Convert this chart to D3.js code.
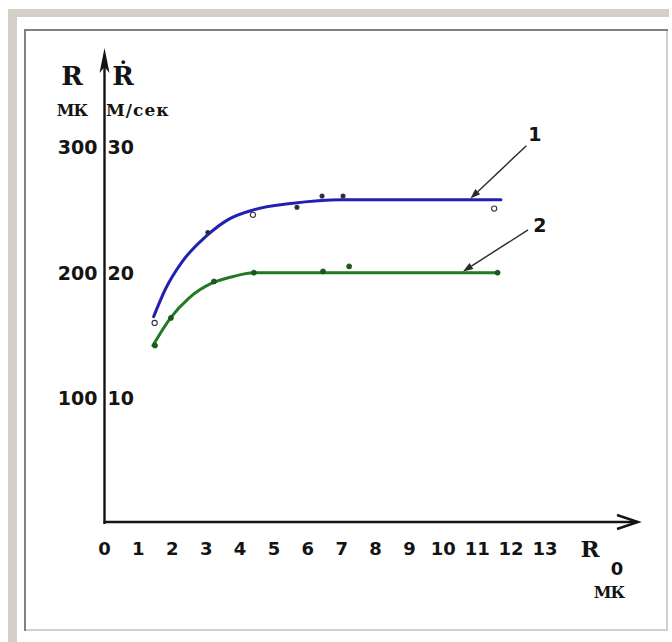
<!DOCTYPE html>
<html>
<head>
<meta charset="utf-8">
<script src="https://cdn.jsdelivr.net/npm/d3@7"></script>
<style>
  html, body { margin: 0; padding: 0; background: #fff; }
  svg { display: block; }
</style>
</head>
<body>
<svg id="chart" width="672" height="642"></svg>
<script>
// Radius R (мк) and growth rate Ṙ (м/сек) versus initial radius R0 (мк)
const xTicks = [0, 1, 2, 3, 4, 5, 6, 7, 8, 9, 10, 11, 12, 13];
const yTicksR = [100, 200, 300];
const yTicksRdot = [10, 20, 30];

// curve 1: fitted line and measured points (R0, R)
const curve1Line = [[1.45, 165], [1.8, 187], [2.3, 209], [3.0, 229], [3.7, 243], [4.4, 250], [5.5, 255], [7.0, 258], [9.0, 258], [11.7, 258]];
const curve1X = [1.48, 3.05, 4.38, 5.68, 6.42, 7.04, 11.5];
const curve1Y = [160, 232, 246, 252, 261, 261, 251];
const curve1Open = [true, false, true, false, false, false, true];

// curve 2: fitted line and measured points (R0, Ṙ·10)
const curve2Line = [[1.43, 142], [1.95, 164], [2.5, 180], [3.2, 192], [3.8, 197], [4.4, 200], [6.0, 200], [9.0, 200], [11.6, 200]];
const curve2X = [1.49, 1.96, 3.23, 4.41, 6.45, 7.22, 11.6];
const curve2Y = [142, 164, 193, 200, 201, 205, 200];

// leader arrows with curve numbers
const labelNames = ["1", "2"];
const labelAt = [[12.7, 310], [12.85, 238]];
const arrowFrom = [[12.45, 301], [12.5, 234]];
const arrowTo = [[10.8, 259], [10.58, 201]];

const svg = d3.select("#chart");

// page frame
const frame = svg.append("g");
frame.append("rect").attr("x", 8).attr("y", 9).attr("width", 661).attr("height", 8).attr("fill", "#d4d0c8");
frame.append("rect").attr("x", 8).attr("y", 9).attr("width", 9).attr("height", 633).attr("fill", "#d4d0c8");
frame.append("rect").attr("x", 24).attr("y", 29).attr("width", 644).attr("height", 2).attr("fill", "#808080");
frame.append("rect").attr("x", 24).attr("y", 29).attr("width", 2).attr("height", 602).attr("fill", "#808080");
frame.append("rect").attr("x", 666).attr("y", 31).attr("width", 2).attr("height", 600).attr("fill", "#d4d0c8");
frame.append("rect").attr("x", 26).attr("y", 629).attr("width", 642).attr("height", 2).attr("fill", "#d4d0c8");

const x = d3.scaleLinear().domain([0, 13]).range([104.5, 545]);
const y = d3.scaleLinear().domain([0, 300]).range([524, 147]);

const ink = "#141414";
const x0 = x(0), y0 = y(0) - 2;

// axes
svg.append("line").attr("x1", x0).attr("y1", y0 + 2).attr("x2", x0).attr("y2", 60)
  .attr("stroke", ink).attr("stroke-width", 2.4);
svg.append("path")
  .attr("d", `M${x0},48 L${x0 - 5},73 L${x0},67 L${x0 + 5},73 Z`)
  .attr("fill", ink);
svg.append("line").attr("x1", x0 - 1).attr("y1", y0).attr("x2", 636).attr("y2", y0)
  .attr("stroke", ink).attr("stroke-width", 2.6);
svg.append("path")
  .attr("d", `M${617},${y0 - 7} L${638},${y0} L${617},${y0 + 7}`)
  .attr("fill", "none").attr("stroke", ink).attr("stroke-width", 2.4);

const sans = "'DejaVu Sans', Verdana, sans-serif";
const serif = "'DejaVu Serif', 'Liberation Serif', serif";

// x tick labels
svg.append("g").selectAll("text").data(xTicks).join("text")
  .attr("x", d => x(d)).attr("y", 548)
  .attr("text-anchor", "middle").attr("dominant-baseline", "central")
  .attr("font-family", sans).attr("font-weight", "bold").attr("font-size", 18)
  .attr("fill", ink).text(d => d);

// y tick labels, both scales
svg.append("g").selectAll("text").data(yTicksR).join("text")
  .attr("x", x0 - 7).attr("y", d => y(d))
  .attr("text-anchor", "end").attr("dominant-baseline", "central")
  .attr("font-family", sans).attr("font-weight", "bold").attr("font-size", 19)
  .attr("fill", ink).text(d => d);
svg.append("g").selectAll("text").data(yTicksRdot).join("text")
  .attr("x", x0 + 3).attr("y", (d, i) => y(yTicksR[i]))
  .attr("text-anchor", "start").attr("dominant-baseline", "central")
  .attr("font-family", sans).attr("font-weight", "bold").attr("font-size", 19)
  .attr("fill", ink).text(d => d);

// axis titles
const title = (tx, ty, s, size, anchor, fam, spacing) => svg.append("text")
  .attr("x", tx).attr("y", ty).attr("text-anchor", anchor || "middle")
  .attr("dominant-baseline", "central")
  .attr("font-family", fam || serif).attr("font-weight", "bold").attr("font-size", size)
  .attr("letter-spacing", spacing || 0)
  .attr("fill", ink).text(s);
title(72, 76, "R", 26);
title(123, 76, "Ṙ", 26);
title(72, 110, "МК", 16, "middle", serif, -1);
title(106, 110, "М/сек", 17, "start", serif, 1);
title(590, 548, "R", 23);
title(617, 568, "0", 18, "middle", sans);
title(609, 592, "МК", 16, "middle", serif, -1);

// fitted curves
const line = d3.line().x(d => x(d[0])).y(d => y(d[1])).curve(d3.curveMonotoneX);
svg.append("path").datum(curve1Line).attr("d", line)
  .attr("fill", "none").attr("stroke", "#2020b4").attr("stroke-width", 3).attr("stroke-linecap", "round");
svg.append("path").datum(curve2Line).attr("d", line)
  .attr("fill", "none").attr("stroke", "#1f7a22").attr("stroke-width", 3).attr("stroke-linecap", "round");

// measured points
svg.append("g").selectAll("circle").data(curve1X).join("circle")
  .attr("cx", d => x(d)).attr("cy", (d, i) => y(curve1Y[i]))
  .attr("r", (d, i) => curve1Open[i] ? 2.6 : 2)
  .attr("fill", (d, i) => curve1Open[i] ? "#fff" : "#222255")
  .attr("stroke", "#333340").attr("stroke-width", 1.1);
svg.append("g").selectAll("circle").data(curve2X).join("circle")
  .attr("cx", d => x(d)).attr("cy", (d, i) => y(curve2Y[i]))
  .attr("r", 2.5).attr("fill", "#1c5a1c").attr("stroke", "#1c4a1c").attr("stroke-width", 0.8);

// curve numbers and leader arrows
labelNames.forEach((name, i) => {
  const fx = x(arrowFrom[i][0]), fy = y(arrowFrom[i][1]);
  const tx = x(arrowTo[i][0]), ty = y(arrowTo[i][1]);
  const ang = Math.atan2(ty - fy, tx - fx);
  const len = 10, half = 3.5;
  const bx = tx - len * Math.cos(ang), by = ty - len * Math.sin(ang);
  svg.append("line").attr("x1", fx).attr("y1", fy).attr("x2", bx).attr("y2", by)
    .attr("stroke", "#2a2a2a").attr("stroke-width", 1.4);
  svg.append("path")
    .attr("d", `M${tx},${ty} L${bx + half * Math.sin(ang)},${by - half * Math.cos(ang)} L${bx - half * Math.sin(ang)},${by + half * Math.cos(ang)} Z`)
    .attr("fill", "#2a2a2a");
  svg.append("text").attr("x", x(labelAt[i][0])).attr("y", y(labelAt[i][1]))
    .attr("text-anchor", "middle").attr("dominant-baseline", "central")
    .attr("font-family", sans).attr("font-weight", "bold").attr("font-size", 19)
    .attr("fill", ink).text(name);
});
</script>
</body>
</html>
